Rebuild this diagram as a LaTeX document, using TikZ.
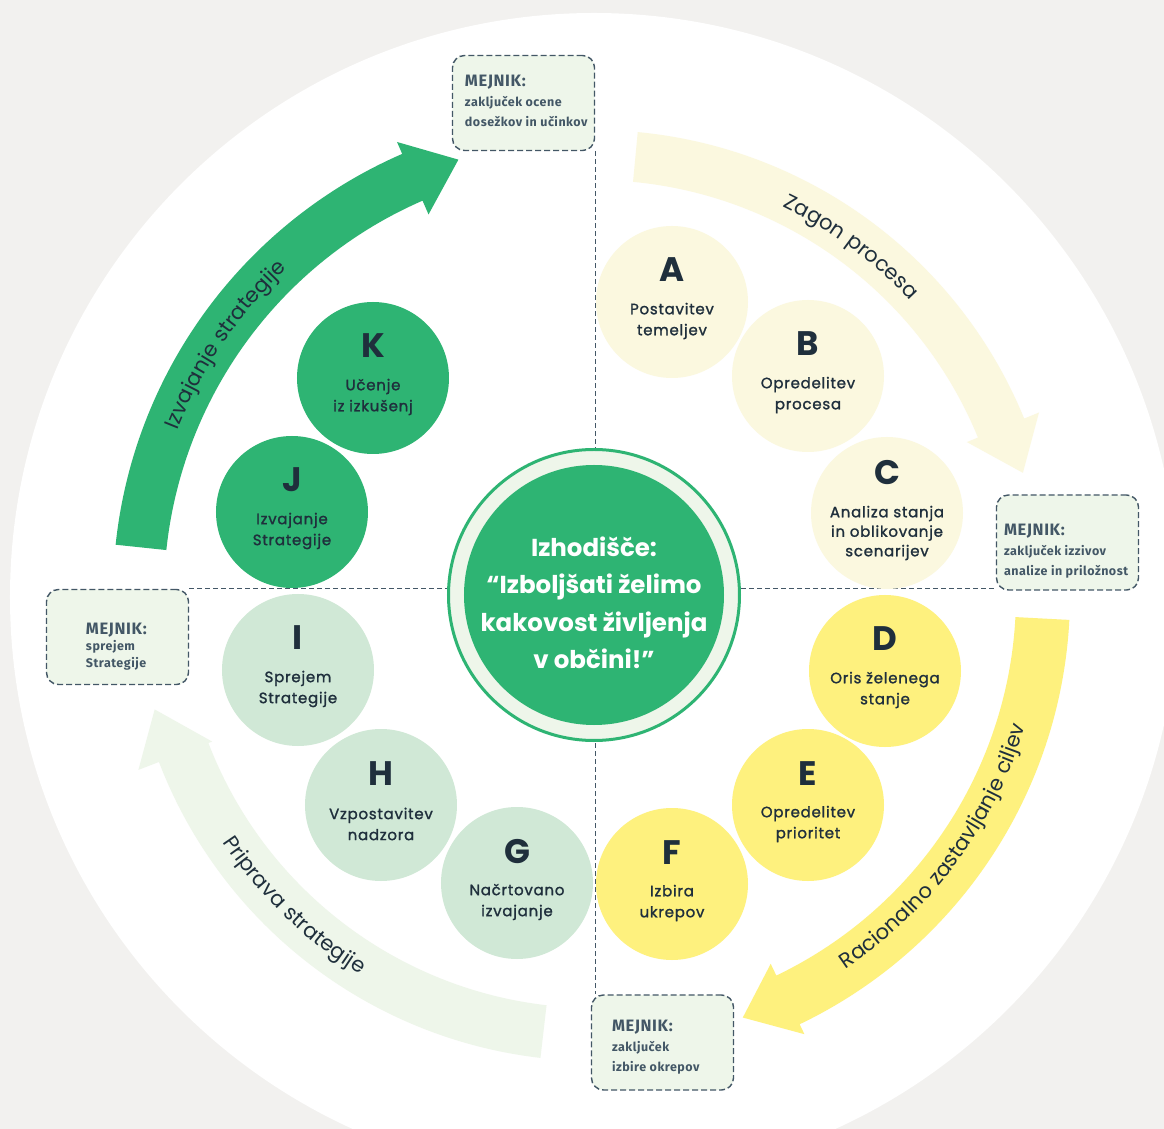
\documentclass[tikz,border=0pt]{standalone}
\usepackage{fontspec}
\setmainfont{Poppins}
\newfontfamily\stagefont[LetterSpace=5, FakeBold=1.4]{Poppins}
\newfontfamily\arcfont[LetterSpace=3]{Poppins}
\newfontfamily\milefont[LetterSpace=4]{Fira Sans}

\usetikzlibrary{decorations.text}

\definecolor{canvas}{HTML}{F2F1EF}
\definecolor{leaf}{HTML}{2EB473}
\definecolor{cream}{HTML}{FBF8DF}
\definecolor{sun}{HTML}{FEF17E}
\definecolor{sage}{HTML}{D0E8D6}
\definecolor{mist}{HTML}{EEF6EA}
\definecolor{ink}{HTML}{1F2F3C}
\definecolor{slate}{HTML}{435766}

% curved band with arrow head: style, tail angle, head angle, r in, r out, tip angle, barb in, barb out, tip r
\newcommand{\bandarrow}[9]{%
  \fill[#1] (#2:#5) arc[start angle=#2, end angle=#3, radius=#5]
    -- (#3:#8) -- (#6:#9) -- (#3:#7) -- (#3:#4)
    arc[start angle=#3, end angle=#2, radius=#4] -- cycle;}

\begin{document}
\begin{tikzpicture}[
    x=1pt, y=1pt,
    stage/.style={circle, inner sep=0pt, minimum size=152pt},
    letter/.style={anchor=base, font=\bfseries\fontsize{34}{34}\selectfont, text=ink},
    desc/.style={align=center, font=\stagefont\fontsize{15}{21}\selectfont, text=ink},
    milestone/.style={rectangle, draw=slate, fill=mist, dash pattern=on 6pt off 3pt,
      line width=1.4pt, rounded corners=12pt, minimum width=142pt, minimum height=95pt},
    miletext/.style={anchor=north west, inner sep=0pt, align=left,
      font=\milefont\bfseries\fontsize{12.5}{20}\selectfont, text=slate},
    guide/.style={draw=slate, dash pattern=on 5pt off 3pt, line width=1.4pt},
    arctext/.style={decorate, decoration={text along path, text align=center, text color=ink,
      text={|\arcfont\fontsize{21}{21}\selectfont|#1}}}
  ]
  % background and big disc
  \fill[canvas] (-594,-534) rectangle (570,595);
  \useasboundingbox (-594,-534) rectangle (570,595);
  \fill[white] (0,-2) circle[radius=584];

  % milestones
  \node[milestone] (mT) at (-70.5,492) {};
  \node[miletext] (mT-t) at ([xshift=13, yshift=-20]mT.north west)
    {{\fontsize{16.5}{20}\selectfont MEJNIK:}\\zaključek ocene\\dosežkov in učinkov};
  \node[milestone] (mR) at (473.5,52.5) {};
  \node[miletext] (mR-t) at ([xshift=8, yshift=-30]mR.north west)
    {{\fontsize{16.5}{20}\selectfont MEJNIK:}\\zaključek izzivov\\analize in priložnost};
  \node[milestone] (mL) at (-476.5,-42) {};
  \node[miletext, font=\milefont\bfseries\fontsize{12.5}{16.5}\selectfont] (mL-t) at ([xshift=40, yshift=-34]mL.north west)
    {{\fontsize{16.5}{16.5}\selectfont MEJNIK:}\\sprejem\\Strategije};
  \node[milestone] (mB) at (68.5,-447.5) {};
  \node[miletext] (mB-t) at ([xshift=21, yshift=-26]mB.north west)
    {{\fontsize{16.5}{20}\selectfont MEJNIK:}\\zaključek\\izbire okrepov};

  % quadrant guides
  \draw[guide] (mT.south east) -- (mT.south east |- mB.north);
  \draw[guide] (mL.north east) -- (mL.north east -| mR.west);

  % phase arrows
  \bandarrow{leaf}{174}{113.5}{430}{481}{107.3}{415}{494}{456}
  \bandarrow{cream}{84.6}{22.3}{415}{465}{15.9}{403}{481}{446}
  \bandarrow{sun}{-3}{-64.4}{422}{476}{-70.6}{409}{487}{448}
  \bandarrow{mist}{-96.6}{-159}{413}{466}{-165.4}{409}{488}{454}

  % arrow labels
  \path[arctext={Izvajanje strategije}] (171:448) arc[start angle=171, end angle=120.6, radius=448];
  \path[arctext={Zagon procesa}] (76.5:432) arc[start angle=76.5, end angle=30.6, radius=432];
  \path[arctext={Racionalno zastavljanje ciljev}] (-62:451) arc[start angle=-62, end angle=-11, radius=451];
  \path[arctext={Priprava strategije}] (200:446) arc[start angle=200, end angle=252, radius=446];

  % centre
  \node[circle, draw=leaf, line width=3pt, fill=mist, minimum size=291pt, inner sep=0pt] (ring) at (0,0) {};
  \node[circle, fill=leaf, minimum size=260pt, inner sep=0pt] (core) at (0,0) {};
  \node[align=center, text=white, font=\bfseries\fontsize{24.5}{37.5}\selectfont] (motto) at (0,-8)
    {Izhodišče:\\“Izboljšati želimo\\kakovost življenja\\v občini!”};

  % Zagon procesa
  \node[stage, fill=cream] (A) at (78,293) {};
  \node[letter] (A-l) at ([yshift=20]A.center) {A};
  \node[desc] (A-d) at ([yshift=-19]A.center) {Postavitev\\temeljev};
  \node[stage, fill=cream] (B) at (214,219) {};
  \node[letter] (B-l) at ([yshift=20]B.center) {B};
  \node[desc] (B-d) at ([yshift=-19]B.center) {Opredelitev\\procesa};
  \node[stage, fill=cream] (C) at (293,82) {};
  \node[letter] (C-l) at ([yshift=28]C.center) {C};
  \node[desc, font=\stagefont\fontsize{15}{19.5}\selectfont] (C-d) at ([yshift=-20]C.center) {Analiza stanja\\in oblikovanje\\scenarijev};

  % Racionalno zastavljanje ciljev
  \node[stage, fill=sun] (D) at (291,-76) {};
  \node[letter] (D-l) at ([yshift=20]D.center) {D};
  \node[desc] (D-d) at ([yshift=-19]D.center) {Oris želenega\\stanje};
  \node[stage, fill=sun] (E) at (214,-210) {};
  \node[letter] (E-l) at ([yshift=20]E.center) {E};
  \node[desc] (E-d) at ([yshift=-19]E.center) {Opredelitev\\prioritet};
  \node[stage, fill=sun] (F) at (78,-289) {};
  \node[letter] (F-l) at ([yshift=20]F.center) {F};
  \node[desc] (F-d) at ([yshift=-19]F.center) {Izbira\\ukrepov};

  % Priprava strategije
  \node[stage, fill=sage] (G) at (-77,-288) {};
  \node[letter] (G-l) at ([yshift=20]G.center) {G};
  \node[desc] (G-d) at ([yshift=-19]G.center) {Načrtovano\\izvajanje};
  \node[stage, fill=sage] (H) at (-213,-210) {};
  \node[letter] (H-l) at ([yshift=20]H.center) {H};
  \node[desc] (H-d) at ([yshift=-19]H.center) {Vzpostavitev\\nadzora};
  \node[stage, fill=sage] (I) at (-296,-75) {};
  \node[letter] (I-l) at ([yshift=20]I.center) {I};
  \node[desc] (I-d) at ([yshift=-19]I.center) {Sprejem\\Strategije};

  % Izvajanje strategije
  \node[stage, fill=leaf] (J) at (-302,83) {};
  \node[letter] (J-l) at ([yshift=20]J.center) {J};
  \node[desc] (J-d) at ([yshift=-19]J.center) {Izvajanje\\Strategije};
  \node[stage, fill=leaf] (K) at (-221,217) {};
  \node[letter] (K-l) at ([yshift=20]K.center) {K};
  \node[desc] (K-d) at ([yshift=-19]K.center) {Učenje\\iz izkušenj};
\end{tikzpicture}
\end{document}
